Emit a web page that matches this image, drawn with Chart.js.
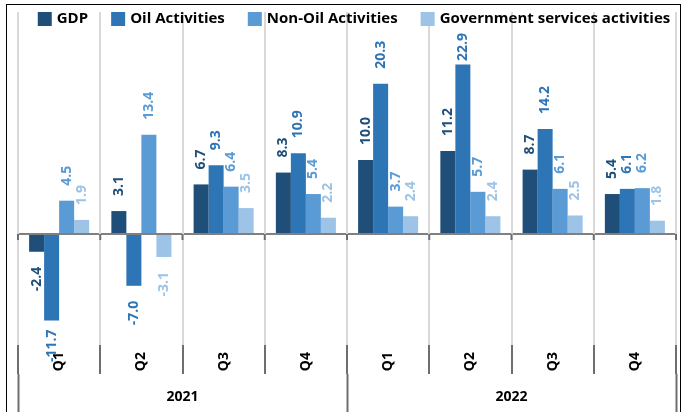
<!DOCTYPE html>
<html><head><meta charset="utf-8">
<script src="https://cdn.jsdelivr.net/npm/chart.js@4.4.1/dist/chart.umd.min.js"></script>
<style>
html,body{margin:0;padding:0;background:#fff;}
#wrap{position:relative;width:682px;height:412px;overflow:hidden;}
#frame{position:absolute;left:6px;top:4px;width:675px;height:440px;border:1px solid #000;box-sizing:border-box;pointer-events:none;}
canvas{position:absolute;left:0;top:0;}
</style></head><body>
<div id="wrap"><canvas id="c" width="682" height="412"></canvas><div id="frame"></div></div>
<script>
const quarters = ['Q1','Q2','Q3','Q4','Q1','Q2','Q3','Q4'];
const years = ['2021','2022'];
const seriesNames = ['GDP','Oil Activities','Non-Oil Activities','Government services activities'];
const gdp = [-2.4, 3.1, 6.7, 8.3, 10.0, 11.2, 8.7, 5.4];
const oil = [-11.7, -7.0, 9.3, 10.9, 20.3, 22.9, 14.2, 6.1];
const nonOil = [4.5, 13.4, 6.4, 5.4, 3.7, 5.7, 6.1, 6.2];
const gov = [1.9, -3.1, 3.5, 2.2, 2.4, 2.4, 2.5, 1.8];
const seriesColors = ['#1f4e79','#2e75b6','#5b9bd5','#9dc3e6'];

const FONT = '"Open Sans", "Noto Sans", sans-serif';
const seriesData = [gdp, oil, nonOil, gov];

const valueLabels = {
  id: 'valueLabels',
  afterDatasetsDraw(chart) {
    const ctx = chart.ctx;
    const lowLimit = 362;
    const highLimit = 33;
    chart.data.datasets.forEach((ds, di) => {
      const meta = chart.getDatasetMeta(di);
      meta.data.forEach((bar, i) => {
        const v = ds.data[i];
        const txt = v.toFixed(1);
        ctx.save();
        ctx.font = 'bold 14px ' + FONT;
        ctx.fillStyle = ds.backgroundColor;
        const w = ctx.measureText(txt).width;
        const gap = 15;
        ctx.translate(bar.x, bar.y);
        ctx.rotate(-Math.PI / 2);
        ctx.textBaseline = 'middle';
        if (v >= 0) {
          let off = gap;
          if (bar.y - off - w < highLimit) off = Math.max(2, bar.y - w - highLimit);
          ctx.textAlign = 'left';
          ctx.fillText(txt, off, 0);
        } else {
          let off = gap;
          if (bar.y + off + w > lowLimit) off = Math.max(3, lowLimit - bar.y - w);
          ctx.textAlign = 'right';
          ctx.fillText(txt, -off, 0);
        }
        ctx.restore();
      });
    });
  }
};

const zeroTicks = {
  id: 'zeroTicks',
  afterDraw(chart) {
    const ctx = chart.ctx;
    const xs = chart.scales.x;
    const y0 = chart.scales.y.getPixelForValue(0);
    ctx.save();
    ctx.strokeStyle = '#6e6e6e';
    ctx.lineWidth = 2;
    for (let i = 0; i <= quarters.length; i++) {
      const x = xs.getPixelForValue(i - 0.5);
      ctx.beginPath();
      ctx.moveTo(x, y0);
      ctx.lineTo(x, y0 + 6);
      ctx.stroke();
    }
    ctx.restore();
  }
};

const topLegend = {
  id: 'topLegend',
  afterDraw(chart) {
    const ctx = chart.ctx;
    const area = chart.chartArea;
    ctx.save();
    ctx.font = 'bold 15px ' + FONT;
    const box = 14, gapBT = 5, gapItem = 23;
    const widths = seriesNames.map(n => box + gapBT + ctx.measureText(n).width);
    const total = widths.reduce((a, b) => a + b, 0) + gapItem * (widths.length - 1);
    let x = (area.left + area.right) / 2 + 7 - total / 2;
    const yc = area.top + 7;
    ctx.textBaseline = 'middle';
    ctx.textAlign = 'left';
    seriesNames.forEach((n, k) => {
      ctx.fillStyle = seriesColors[k];
      ctx.fillRect(x, yc - box / 2, box, box);
      ctx.fillStyle = '#000';
      ctx.fillText(n, x + box + gapBT, yc);
      x += widths[k] + gapItem;
    });
    ctx.restore();
  }
};

new Chart(document.getElementById('c'), {
  type: 'bar',
  data: {
    labels: quarters,
    datasets: seriesData.map((d, k) => ({
      label: seriesNames[k],
      data: d,
      backgroundColor: seriesColors[k],
      borderWidth: 0,
      barPercentage: 1.0,
      categoryPercentage: 0.73
    }))
  },
  options: {
    responsive: false,
    animation: false,
    devicePixelRatio: 1,
    layout: { padding: { left: 18, right: 6, top: 12, bottom: 0 } },
    plugins: {
      legend: { display: false },
      tooltip: { enabled: false }
    },
    scales: {
      y: {
        min: -15, max: 30,
        display: true,
        afterFit: s => { s.width = 0; },
        border: { display: false },
        ticks: { display: false },
        grid: {
          drawTicks: false,
          color: c => c.tick && c.tick.value === 0 ? '#808080' : 'rgba(0,0,0,0)',
          lineWidth: c => c.tick && c.tick.value === 0 ? 2 : 0
        }
      },
      x: {
        position: 'bottom',
        weight: 0,
        afterFit: s => { s.height = 29; },
        border: { display: false },
        grid: { offset: true, color: '#d9d9d9', lineWidth: 2, tickColor: '#6e6e6e', tickWidth: 2, tickLength: 29 },
        ticks: { minRotation: 90, maxRotation: 90, padding: -22, color: '#000', font: { family: FONT, size: 14, weight: 'bold' } }
      },
      x2: {
        type: 'category',
        labels: years,
        position: 'bottom',
        weight: 1,
        offset: true,
        afterFit: s => { s.height = 38; },
        border: { display: false },
        grid: { offset: true, drawOnChartArea: false, tickColor: '#6e6e6e', tickWidth: 2, tickLength: 38 },
        ticks: { padding: -23, color: '#000', font: { family: FONT, size: 14, weight: 'bold' } }
      }
    }
  },
  plugins: [valueLabels, zeroTicks, topLegend]
});
</script>
</body></html>
